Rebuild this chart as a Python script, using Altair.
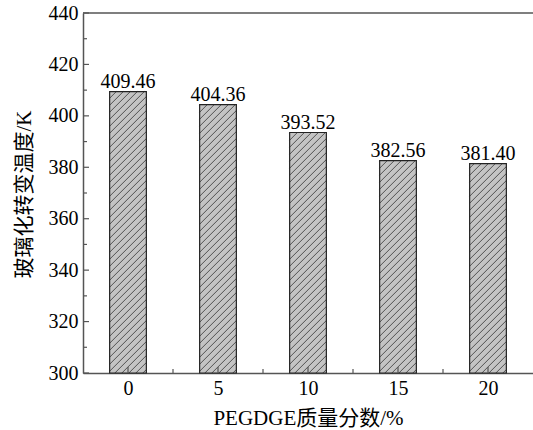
import altair as alt
import numpy as np
import pandas as pd

# Glass transition temperature vs PEGDGE mass fraction
fractions = [0, 5, 10, 15, 20]
tg_values = [409.46, 404.36, 393.52, 382.56, 381.40]
tg_labels = ["409.46", "404.36", "393.52", "382.56", "381.40"]

y_ticks = list(range(300, 441, 20))
y_minor = list(range(310, 440, 20))
x_ticks = [0, 5, 10, 15, 20]
x_minor = [2.5, 7.5, 12.5, 17.5]

X_DOMAIN = [-2.5, 22.5]
Y_DOMAIN = [300, 440]
W, H = 450, 360
HALF = 1.02  # half bar width in x units

SERIF = "'Liberation Serif', 'Times New Roman', 'Noto Sans CJK SC', serif"
AXIS_COLOR = "#555555"
FS = 20
TFS = 21

bars = pd.DataFrame({
    "x": fractions,
    "x0": [v - HALF for v in fractions],
    "x1": [v + HALF for v in fractions],
    "y": tg_values,
    "label": tg_labels,
})

# diagonal hatch segments clipped to each bar (45 degrees on screen)
sx = W / (X_DOMAIN[1] - X_DOMAIN[0])
sy = H / (Y_DOMAIN[1] - Y_DOMAIN[0])
rise = 2 * HALF * sx / sy
step = 7.0 / sy
segs = []
for xc, top in zip(fractions, tg_values):
    xl, xr = xc - HALF, xc + HALF
    b = Y_DOMAIN[0] - rise + step * 0.5
    while b < top:
        x0, y0 = xl, b
        if y0 < Y_DOMAIN[0]:
            x0 = xl + (Y_DOMAIN[0] - b) * sy / sx
            y0 = Y_DOMAIN[0]
        x1, y1 = xr, b + rise
        if y1 > top:
            x1 = xr - (y1 - top) * sy / sx
            y1 = top
        if x1 > x0:
            segs.append({"hx": x0, "hx2": x1, "hy": y0, "hy2": y1})
        b += step
hatch = pd.DataFrame(segs)

xs = alt.Scale(domain=X_DOMAIN, nice=False, zero=False)
ys = alt.Scale(domain=Y_DOMAIN, nice=False, zero=False)

x_axis = alt.Axis(
    values=x_ticks, ticks=False, tickSize=0, grid=False, labelPadding=5,
    labelFont=SERIF, labelFontSize=FS, labelColor="black",
    domainColor=AXIS_COLOR, domainWidth=1.5,
    title="PEGDGE质量分数/%", titleFont=SERIF, titleFontSize=TFS,
    titleFontWeight="normal", titleColor="black",
    titleY=45, titleBaseline="middle",
)
y_axis = alt.Axis(
    values=y_ticks, ticks=False, tickSize=0, grid=False, labelPadding=5,
    labelFont=SERIF, labelFontSize=FS, labelColor="black",
    domainColor=AXIS_COLOR, domainWidth=1.5,
    title="玻璃化转变温度/K", titleFont=SERIF, titleFontSize=TFS,
    titleFontWeight="normal", titleColor="black",
    titleAngle=270, titleX=-59, titleY=181,
    titleAlign="center", titleBaseline="middle",
)

base = alt.Chart(bars)

fill = base.mark_rect(color="#c4c4c4").encode(
    x=alt.X("x0:Q", scale=xs, axis=x_axis),
    x2="x1:Q",
    y=alt.Y("y:Q", scale=ys, axis=y_axis),
    y2=alt.datum(300),
)

hatch_layer = alt.Chart(hatch).mark_rule(color="#333333", strokeWidth=0.8).encode(
    x=alt.X("hx:Q", scale=xs),
    x2="hx2:Q",
    y=alt.Y("hy:Q", scale=ys),
    y2="hy2:Q",
)

outline = base.mark_rect(fill=None, stroke="#222222", strokeWidth=1.2).encode(
    x=alt.X("x0:Q", scale=xs),
    x2="x1:Q",
    y=alt.Y("y:Q", scale=ys),
    y2=alt.datum(300),
)

labels = base.mark_text(
    font=SERIF, fontSize=FS, color="black", baseline="alphabetic", dy=-4
).encode(
    x=alt.X("x:Q", scale=xs),
    y=alt.Y("y:Q", scale=ys),
    text="label:N",
)

# inward tick marks
ymaj = alt.Chart(pd.DataFrame({"v": y_ticks})).mark_rule(color=AXIS_COLOR, strokeWidth=1.2).encode(
    y=alt.Y("v:Q", scale=ys), x=alt.value(0), x2=alt.value(6)
)
ymin = alt.Chart(pd.DataFrame({"v": y_minor})).mark_rule(color=AXIS_COLOR, strokeWidth=1.2).encode(
    y=alt.Y("v:Q", scale=ys), x=alt.value(0), x2=alt.value(4)
)
xmaj = alt.Chart(pd.DataFrame({"v": x_ticks})).mark_rule(color=AXIS_COLOR, strokeWidth=1.2).encode(
    x=alt.X("v:Q", scale=xs), y=alt.value(H), y2=alt.value(H - 6)
)
xmin = alt.Chart(pd.DataFrame({"v": x_minor})).mark_rule(color=AXIS_COLOR, strokeWidth=1.2).encode(
    x=alt.X("v:Q", scale=xs), y=alt.value(H), y2=alt.value(H - 4)
)
top_line = alt.Chart(pd.DataFrame({"v": [Y_DOMAIN[1]]})).mark_rule(color=AXIS_COLOR, strokeWidth=1.5).encode(
    y=alt.Y("v:Q", scale=ys), x=alt.value(0), x2=alt.value(W)
)

chart = alt.layer(
    fill, hatch_layer, outline, labels, ymaj, ymin, xmaj, xmin, top_line
).properties(
    width=W, height=H,
    autosize=alt.AutoSizeParams(type="none"),
    padding={"left": 83, "top": 13, "right": 0, "bottom": 57},
    background="white",
).configure_view(stroke=None)

chart.save("out.html", embed_options={"renderer": "svg", "actions": False})
